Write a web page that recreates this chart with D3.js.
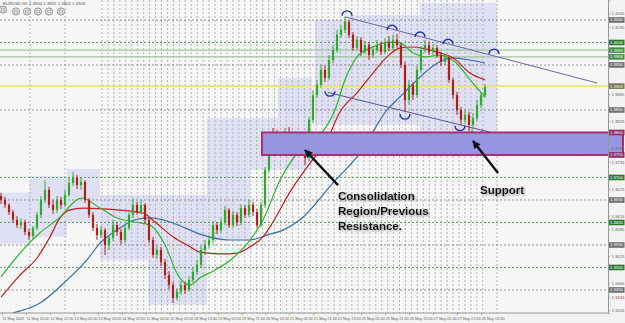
<!DOCTYPE html>
<html><head><meta charset="utf-8">
<script src="https://cdn.jsdelivr.net/npm/d3@7"></script>
<style>
html,body{margin:0;padding:0;background:#f3f3f3;}
svg{display:block;font-family:"Liberation Sans",Arial,sans-serif;}
</style></head><body>
<svg id="c" width="625" height="323"></svg>
<script>
// ---------- DATA ----------
const opens = [1.3659,1.3650,1.3639,1.3623,1.3606,1.3594,1.3601,1.3579,1.3570,1.3588,
1.3617,1.3650,1.3672,1.3639,1.3628,1.3650,1.3639,1.3661,1.3688,1.3699,
1.3683,1.3690,1.3650,1.3617,1.3588,1.3572,1.3583,1.3550,1.3566,1.3594,
1.3579,1.3561,1.3588,1.3617,1.3639,1.3623,1.3639,1.3606,1.3561,1.3528,
1.3539,1.3512,1.3483,1.3461,1.3432,1.3446,1.3461,1.3450,1.3472,1.3490,
1.3506,1.3539,1.3550,1.3561,1.3594,1.3583,1.3601,1.3628,1.3594,1.3617,
1.3601,1.3632,1.3617,1.3639,1.3623,1.3594,1.3639,1.3717,1.3783,1.3772,
1.3788,1.3779,1.3794,1.3783,1.3788,1.3772,1.3761,1.3743,1.3828,1.3883,
1.3906,1.3939,1.3921,1.3961,1.3983,1.4017,1.4028,1.4046,1.4017,1.3988,
1.4006,1.3979,1.3994,1.3972,1.3983,1.3994,1.3979,1.4001,1.3988,1.4006,
1.3994,1.3950,1.3872,1.3906,1.3883,1.3939,1.3983,1.3994,1.3979,1.3988,
1.3972,1.3957,1.3966,1.3917,1.3883,1.3850,1.3828,1.3839,1.3817,1.3832,
1.3861,1.3883];
const highs = [1.3666,1.3657,1.3643,1.3628,1.3614,1.3610,1.3606,1.3586,1.3592,1.3623,
1.3659,1.3694,1.3679,1.3650,1.3659,1.3657,1.3672,1.3699,1.3712,1.3706,
1.3701,1.3694,1.3654,1.3623,1.3597,1.3592,1.3588,1.3572,1.3606,1.3601,
1.3586,1.3594,1.3623,1.3654,1.3646,1.3650,1.3643,1.3610,1.3568,1.3548,
1.3546,1.3519,1.3492,1.3468,1.3454,1.3470,1.3468,1.3481,1.3499,1.3517,
1.3548,1.3561,1.3572,1.3603,1.3601,1.3610,1.3637,1.3632,1.3626,1.3623,
1.3641,1.3639,1.3650,1.3646,1.3630,1.3646,1.3723,1.3792,1.3810,1.3806,
1.3801,1.3810,1.3812,1.3801,1.3799,1.3783,1.3770,1.3834,1.3894,1.3917,
1.3950,1.3948,1.3972,1.3994,1.4028,1.4039,1.4057,1.4050,1.4023,1.4014,
1.4012,1.4003,1.4001,1.3992,1.4006,1.4001,1.4010,1.4014,1.4017,1.4019,
1.3999,1.3957,1.3917,1.3912,1.3948,1.3992,1.4006,1.4001,1.3997,1.3994,
1.3979,1.3974,1.3970,1.3921,1.3890,1.3857,1.3850,1.3846,1.3843,1.3872,
1.3890,1.3908];
const lows = [1.3641,1.3632,1.3617,1.3599,1.3588,1.3586,1.3572,1.3561,1.3563,1.3583,
1.3610,1.3643,1.3632,1.3619,1.3621,1.3630,1.3634,1.3657,1.3681,1.3674,
1.3672,1.3643,1.3610,1.3581,1.3561,1.3566,1.3528,1.3539,1.3559,1.3570,
1.3552,1.3554,1.3583,1.3610,1.3617,1.3619,1.3599,1.3554,1.3521,1.3519,
1.3503,1.3474,1.3452,1.3421,1.3426,1.3439,1.3441,1.3446,1.3466,1.3483,
1.3499,1.3528,1.3543,1.3554,1.3574,1.3577,1.3594,1.3588,1.3588,1.3592,
1.3594,1.3610,1.3612,1.3614,1.3588,1.3590,1.3632,1.3712,1.3761,1.3766,
1.3770,1.3772,1.3777,1.3774,1.3761,1.3750,1.3728,1.3737,1.3821,1.3877,
1.3899,1.3912,1.3917,1.3954,1.3977,1.4010,1.4021,1.4010,1.3981,1.3983,
1.3970,1.3974,1.3961,1.3966,1.3977,1.3972,1.3974,1.3981,1.3983,1.3988,
1.3943,1.3846,1.3861,1.3872,1.3877,1.3932,1.3977,1.3972,1.3972,1.3966,
1.3948,1.3950,1.3910,1.3874,1.3839,1.3817,1.3819,1.3790,1.3806,1.3826,
1.3854,1.3877];
const closes = [1.3650,1.3639,1.3623,1.3606,1.3594,1.3601,1.3579,1.3570,1.3588,1.3617,
1.3650,1.3672,1.3639,1.3628,1.3650,1.3639,1.3661,1.3688,1.3699,1.3683,
1.3690,1.3650,1.3617,1.3588,1.3572,1.3583,1.3550,1.3566,1.3594,1.3579,
1.3561,1.3588,1.3617,1.3639,1.3623,1.3639,1.3606,1.3561,1.3528,1.3539,
1.3512,1.3483,1.3461,1.3432,1.3446,1.3461,1.3450,1.3472,1.3490,1.3506,
1.3539,1.3550,1.3561,1.3594,1.3583,1.3601,1.3628,1.3594,1.3617,1.3601,
1.3632,1.3617,1.3639,1.3623,1.3594,1.3639,1.3717,1.3783,1.3772,1.3788,
1.3779,1.3794,1.3783,1.3788,1.3772,1.3761,1.3743,1.3828,1.3883,1.3906,
1.3939,1.3921,1.3961,1.3983,1.4017,1.4028,1.4046,1.4017,1.3988,1.4006,
1.3979,1.3994,1.3972,1.3983,1.3994,1.3979,1.4001,1.3988,1.4006,1.3994,
1.3950,1.3872,1.3906,1.3883,1.3939,1.3983,1.3994,1.3979,1.3988,1.3972,
1.3957,1.3966,1.3917,1.3883,1.3850,1.3828,1.3839,1.3817,1.3832,1.3861,
1.3883,1.3901];

// moving averages (bar position, value)
const maGreenBars = [0,4.75,9.75,14,20.25,24.75,29,33.5,37.25,41,44.25,47.25,49.75,53.5,58,62.25,65.25,69.75,74.75,79.75,83.5,86,89,93,97.25,99.75,103,106,109.75,113.5,117.25,121];
const maGreenVals = [1.3479,1.3532,1.3577,1.3606,1.3654,1.3632,1.3610,1.3601,1.3594,1.3550,1.3483,1.3461,1.3477,1.3494,1.3521,1.3561,1.3601,1.3694,1.3761,1.3794,1.3850,1.3917,1.3968,1.3990,1.4001,1.3999,1.3977,1.3968,1.3972,1.3957,1.3917,1.3879];
const maRedBars = [0,4.75,9,12.25,14.75,17.25,20.5,29,35.5,38.5,43,47.25,49.75,54.75,59,62.25,65.5,68,72.25,77.25,81.5,84.75,89,93,96.5,99.75,103,106,109.75,113,117.25,121];
const maRedVals = [1.3434,1.3483,1.3521,1.3568,1.3610,1.3628,1.3632,1.3628,1.3621,1.3601,1.3568,1.3546,1.3534,1.3530,1.3532,1.3546,1.3568,1.3601,1.3668,1.3732,1.3783,1.3846,1.3888,1.3932,1.3968,1.3988,1.3990,1.3986,1.3977,1.3966,1.3932,1.3917];
const maBlueBars = [3,9.75,16.5,21.5,24.75,29.75,33.5,37.25,42.25,46,49.75,57.25,62.25,66.5,70.5,74.75,83,89.75,96.5,99.75,104.75,109,113,117.25,121];
const maBlueVals = [1.3399,1.3421,1.3472,1.3517,1.3554,1.3588,1.3606,1.3610,1.3601,1.3588,1.3574,1.3561,1.3561,1.3572,1.3583,1.3606,1.3688,1.3754,1.3850,1.3879,1.3923,1.3954,1.3966,1.3961,1.3954];

// drawn objects
const resistanceLine = [[86,1.4057],[149,1.3910]];
const supportLine = [[81.75,1.3889],[145.5,1.3750]];
const highMarks = [[86.5,1.4057],[97.75,1.4025],[104.75,1.4010],[111.75,1.3994],[123.25,1.3972]];
const lowMarks = [[82.25,1.3894],[101,1.3843],[114.75,1.3817],[119,1.3806]];
const zoneStart = [-0.5,7.25,16.5,24.75,36.75,51.5,62.25,69.25,78.5,87.25,104.75];
const zoneEnd   = [7.25,16.5,24.75,36.75,51.5,62.25,69.25,77.75,87.25,104.75,124];
const zoneTop   = [1.3666,1.3703,1.3719,1.3661,1.3661,1.3832,1.3832,1.3921,1.4050,1.4061,1.4088];
const zoneBottom= [1.3554,1.3568,1.3601,1.3517,1.3417,1.3561,1.3717,1.3717,1.3817,1.3817,1.3799];
const supportZone = [1.3800,1.3750];
const supportZoneStart = 65.25;
const greenLevels = [1.4000,1.3700,1.3600,1.3500];
const grayLevels = [1.4050,1.3950,1.3850,1.3650,1.3550,1.3450];
const solidLevels = [1.3983,1.3968];
const bidPrice = 1.3903;
const priceTicks = [1.3405,1.3435,1.3465,1.3495,1.3525,1.3555,1.3585,1.3615,1.3645,1.3675,1.3705,1.3735,1.3765,1.3795,1.3825,1.3855,1.3885,1.3915,1.3945,1.3975,1.4005,1.4035,1.4065];
const timeLabels = ["11 May 2009","11 May 20:00","12 May 12:00","13 May 04:00","13 May 20:00","14 May 12:00","15 May 04:00","15 May 20:00","18 May 13:00","19 May 05:00","19 May 21:00","20 May 13:00","21 May 05:00","21 May 21:00","22 May 13:00","25 May 05:00","25 May 21:00","26 May 13:00","27 May 05:00","27 May 21:00","28 May 13:00"];
const notes = [
  {lines:["Consolidation","Region/Previous","Resistance."], at:[84.25,1.3650]},
  {lines:["Support"], at:[119.75,1.3663]}
];
const arrows = [
  {from:[84.25,1.3683], to:[76,1.3761]},
  {from:[124.25,1.3710], to:[118,1.3781]}
];
const header = "EURUSD,H1  1.3904 1.3905 1.3902 1.3903";

// ---------- CHART ----------
const W = 625, H = 323, PR = 608, PB = 313;
const svg = d3.select("#c");
const x = d3.scaleLinear().domain([0,121]).range([1,485]);
const y = d3.scaleLinear().domain([1.33988,1.40944]).range([PB,0]);

const defs = svg.append("defs");
defs.append("clipPath").attr("id","plot").append("rect").attr("x",0).attr("y",0).attr("width",PR).attr("height",PB);
defs.append("marker").attr("id","ah").attr("viewBox","0 0 10 10").attr("refX",9).attr("refY",5)
  .attr("markerWidth",9).attr("markerHeight",8).attr("markerUnits","userSpaceOnUse").attr("orient","auto")
  .append("path").attr("d","M0,0 L10,5 L0,10 z").attr("fill","#111");
const f = defs.append("filter").attr("id","sh").attr("x","-10%").attr("y","-30%").attr("width","130%").attr("height","170%");
f.append("feDropShadow").attr("dx",1.2).attr("dy",1.2).attr("stdDeviation",0.9).attr("flood-color","#777").attr("flood-opacity",0.8);

svg.append("rect").attr("width",W).attr("height",H).attr("fill","#f3f3f3");
svg.append("rect").attr("width",PR).attr("height",PB).attr("fill","#f6f6f6");

const plot = svg.append("g").attr("clip-path","url(#plot)");

// lavender zones
plot.append("g").selectAll("rect").data(zoneStart.map((s,k)=>k)).join("rect")
  .attr("x",k=>x(zoneStart[k])).attr("width",k=>x(zoneEnd[k])-x(zoneStart[k]))
  .attr("y",k=>y(zoneTop[k])).attr("height",k=>y(zoneBottom[k])-y(zoneTop[k]))
  .attr("fill","#dcdcf3").attr("opacity",0.85);

// support zone (extends past plot to right edge)
svg.append("rect").attr("x",x(supportZoneStart)).attr("y",y(supportZone[0]))
  .attr("width",W-2-x(supportZoneStart)).attr("height",y(supportZone[1])-y(supportZone[0]))
  .attr("fill","#9696e2").attr("stroke","#a8306f").attr("stroke-width",2);

// vertical dotted lines
const vx = [30,65].concat(d3.range(0,65).map(k=>102+k*5.95)).concat([497]);
plot.append("g").selectAll("line").data(vx).join("line")
  .attr("x1",d=>d).attr("x2",d=>d).attr("y1",0).attr("y2",PB)
  .attr("stroke",(d,k)=>k%8===4?"#7aa07a":"#9a9a9a").attr("stroke-width",0.7).attr("stroke-dasharray","2,2");

// horizontal dotted levels
plot.append("g").selectAll("line").data(greenLevels).join("line")
  .attr("x1",0).attr("x2",PR).attr("y1",d=>y(d)).attr("y2",d=>y(d))
  .attr("stroke","#3f8f3f").attr("stroke-width",0.8).attr("stroke-dasharray","2,2");
plot.append("g").selectAll("line").data(grayLevels).join("line")
  .attr("x1",0).attr("x2",PR).attr("y1",d=>y(d)).attr("y2",d=>y(d))
  .attr("stroke","#7a7a7a").attr("stroke-width",0.8).attr("stroke-dasharray","2,2");
plot.append("g").selectAll("line").data(solidLevels).join("line")
  .attr("x1",0).attr("x2",PR).attr("y1",d=>y(d)).attr("y2",d=>y(d))
  .attr("stroke","#9fc79f").attr("stroke-width",1.3);
plot.append("line").attr("x1",0).attr("x2",PR).attr("y1",y(bidPrice)).attr("y2",y(bidPrice))
  .attr("stroke","#ece27a").attr("stroke-width",1.6);

// trend lines
const tl = d3.line().x(d=>x(d[0])).y(d=>y(d[1]));
plot.append("path").attr("d",tl(resistanceLine)).attr("stroke","#6a6aa2").attr("stroke-width",1).attr("fill","none");
plot.append("path").attr("d",tl(supportLine)).attr("stroke","#5a5a9a").attr("stroke-width",1).attr("fill","none");

// moving averages
const ml = d3.line().curve(d3.curveMonotoneX).x(d=>x(d[0])).y(d=>y(d[1]));
const mas = [[maBlueBars,maBlueVals,"#3a6fa8"],[maRedBars,maRedVals,"#c81e1e"],[maGreenBars,maGreenVals,"#2fb52f"]];
mas.forEach(([b,v,c])=>{
  plot.append("path").attr("d",ml(b.map((bb,k)=>[bb,v[k]]))).attr("stroke",c).attr("stroke-width",1.2).attr("fill","none");
});

// candles
const bars = closes.map((c,i)=>({i,o:opens[i],h:highs[i],l:lows[i],c}));
const col = d=>d.c>=d.o?"#2faa2f":"#b01e1e";
const cg = plot.append("g");
cg.selectAll("line").data(bars).join("line")
  .attr("x1",d=>x(d.i)).attr("x2",d=>x(d.i)).attr("y1",d=>y(d.h)).attr("y2",d=>y(d.l))
  .attr("stroke",col).attr("stroke-width",1);
cg.selectAll("rect").data(bars).join("rect")
  .attr("x",d=>x(d.i)-1.1).attr("width",2.2)
  .attr("y",d=>y(Math.max(d.o,d.c))).attr("height",d=>Math.max(1,Math.abs(y(d.o)-y(d.c))))
  .attr("fill",col);

// high / low arc marks
const arcPath = (cx,cy,up)=>{ const p=d3.path(); if(up){p.moveTo(cx-5,cy-1); p.arc(cx,cy-1,5,Math.PI,2*Math.PI);} else {p.moveTo(cx-5,cy+1); p.arc(cx,cy+1,5,Math.PI,0,true);} return p.toString(); };
plot.append("g").selectAll("path").data(highMarks).join("path")
  .attr("d",d=>arcPath(x(d[0]),y(d[1]),true)).attr("stroke","#1f2fb8").attr("stroke-width",1.4).attr("fill","none");
plot.append("g").selectAll("path").data(lowMarks).join("path")
  .attr("d",d=>arcPath(x(d[0]),y(d[1]),false)).attr("stroke","#1f2fb8").attr("stroke-width",1.4).attr("fill","none");

// arrows
svg.append("g").selectAll("line").data(arrows).join("line")
  .attr("x1",d=>x(d.from[0])).attr("y1",d=>y(d.from[1])).attr("x2",d=>x(d.to[0])).attr("y2",d=>y(d.to[1]))
  .attr("stroke","#111").attr("stroke-width",2.4).attr("marker-end","url(#ah)");

// notes
notes.forEach(n=>{
  const t = svg.append("text").attr("x",x(n.at[0])).attr("y",y(n.at[1]))
    .attr("font-family","Arial, 'Liberation Sans', sans-serif").attr("font-weight","bold").attr("font-size",11.5)
    .attr("fill","#111").attr("filter","url(#sh)");
  n.lines.forEach((s,k)=>t.append("tspan").attr("x",x(n.at[0])).attr("dy",k?15:0).text(s));
});

// level labels on the axis (drawn over the axis, hiding covered ticks)
const boxes = [].concat(
  greenLevels.map(v=>[v,"#2d7a2d","#fff"]),
  solidLevels.map(v=>[v,"#3f8f3f","#fff"]),
  grayLevels.map(v=>[v,"#6f6f6f","#fff"]),
  [[bidPrice,"#77774a","#fff"]],
  supportZone.map(v=>[v,"#8a2a66","#fff"]));
const freeTicks = priceTicks.filter(t=>boxes.every(b=>Math.abs(y(b[0])-y(t))>5.5));

// right price axis
const ay = svg.append("g").attr("transform",`translate(${PR},0)`)
  .call(d3.axisRight(y).tickValues(freeTicks).tickFormat(d3.format(".4f")).tickSize(2).tickPadding(1.5));
ay.select(".domain").attr("stroke","#999");
ay.selectAll(".tick line").attr("stroke","#999");
ay.selectAll("text").attr("font-size",4.2).attr("fill","#666").attr("font-family","'Liberation Sans',Arial,sans-serif");

const bg = svg.append("g");
bg.selectAll("rect").data(boxes).join("rect")
  .attr("x",PR+1).attr("width",15.5).attr("y",d=>y(d[0])-2.8).attr("height",5.6).attr("fill",d=>d[1]);
bg.selectAll("text").data(boxes).join("text")
  .attr("x",PR+2).attr("y",d=>y(d[0])+1.5).attr("font-size",4.2).attr("fill",d=>d[2])
  .attr("font-family","'Liberation Sans',Arial,sans-serif").text(d=>d3.format(".4f")(d[0]));

// bottom time axis
const tx = d3.scalePoint().domain(timeLabels).range([2,481]);
const ax = svg.append("g").attr("transform",`translate(0,${PB})`)
  .call(d3.axisBottom(tx).tickSize(2).tickPadding(2));
ax.select(".domain").attr("stroke","#999").attr("d",`M0,0H${PR}`);
ax.selectAll(".tick line").attr("stroke","#999");
ax.selectAll("text").attr("font-size",3.8).attr("fill","#666").attr("text-anchor","start")
  .attr("font-family","'Liberation Sans',Arial,sans-serif");

// header & toolbar icons
svg.append("text").attr("x",3).attr("y",5).attr("font-size",4.3).attr("fill","#555").text(header);
const icons = [3,16,27,38,49,61];
svg.append("g").selectAll("circle").data(icons).join("circle")
  .attr("cx",d=>d).attr("cy",(d,k)=>k?11.5:9.5).attr("r",3.6).attr("fill","#e4e4e4").attr("stroke","#8a8a8a").attr("stroke-width",0.9);
svg.append("g").selectAll("rect").data(icons).join("rect")
  .attr("x",d=>d-1.3).attr("y",(d,k)=>(k?11.5:9.5)-1.3).attr("width",2.6).attr("height",2.6)
  .attr("fill","none").attr("stroke","#999").attr("stroke-width",0.6);
</script></body></html>
